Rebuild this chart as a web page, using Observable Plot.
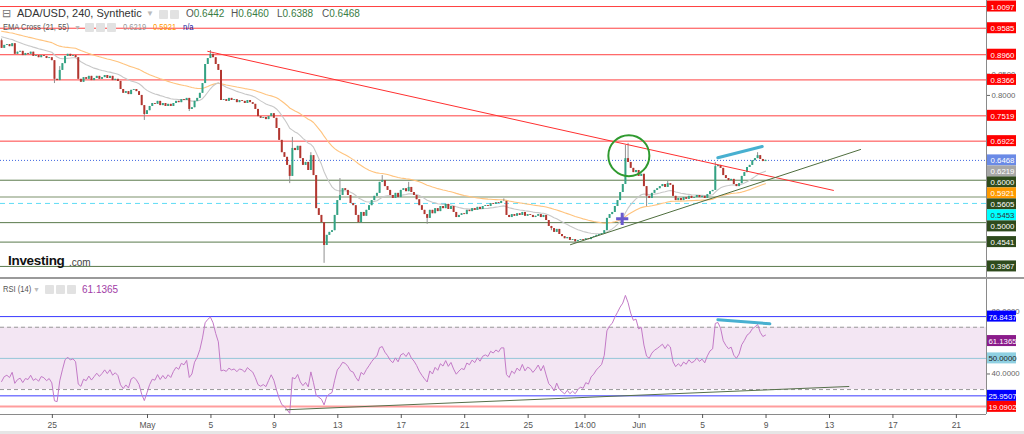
<!DOCTYPE html>
<html><head><meta charset="utf-8">
<script src="https://cdn.jsdelivr.net/npm/d3@7"></script>
<script src="https://cdn.jsdelivr.net/npm/@observablehq/plot@0.6"></script>
<style>
html,body{margin:0;padding:0;background:#fff;}
#wrap{position:relative;width:1024px;height:434px;overflow:hidden;background:#fff;}
#wrap svg{display:block;}
.sep{height:2px;background:#9a9a9a;}
.band{height:3px;background:#e6e6e6;}
.ov{position:absolute;white-space:nowrap;font-family:"Liberation Sans",Arial,sans-serif;line-height:1;}
.nar{transform:scaleX(0.84);transform-origin:0 0;}
.ic{position:absolute;width:9px;height:9px;background:#e2e2e2;border-radius:1px;}
</style></head>
<body><div id="wrap"></div>
<script>
// ---------- DATA ----------
// 4-hour candles, x in days since 1 April (1 May = 30)
const startDay = 20.8;
const candleStep = 1 / 6;
const firstOpen = 0.929;
const closes = [
0.911,0.918,0.920,0.915,0.922,0.897,0.902,0.904,0.894,0.899,0.897,0.902,0.892,0.894,0.889,0.894,0.892,0.887,0.889,0.882,
0.838,0.835,0.859,0.875,0.892,0.897,0.892,0.894,0.889,0.838,0.831,0.842,0.838,0.845,0.835,0.840,0.845,0.838,0.842,0.847,
0.840,0.845,0.835,0.838,0.833,0.814,0.805,0.809,0.802,0.812,0.814,0.809,0.800,0.776,0.755,0.764,0.774,0.781,0.779,0.786,
0.776,0.781,0.774,0.779,0.774,0.781,0.786,0.783,0.790,0.788,0.793,0.767,0.771,0.786,0.793,0.805,0.828,0.873,0.887,0.897,
0.889,0.873,0.859,0.788,0.790,0.786,0.793,0.788,0.790,0.783,0.788,0.786,0.781,0.788,0.783,0.779,0.767,0.750,0.746,0.748,
0.743,0.750,0.757,0.746,0.722,0.694,0.665,0.654,0.635,0.609,0.675,0.670,0.680,0.651,0.635,0.642,0.623,0.658,0.611,0.533,
0.517,0.500,0.446,0.470,0.477,0.481,0.517,0.552,0.564,0.580,0.576,0.564,0.545,0.540,0.517,0.500,0.524,0.515,0.529,0.540,
0.552,0.562,0.569,0.595,0.599,0.585,0.576,0.564,0.557,0.569,0.559,0.576,0.580,0.573,0.583,0.571,0.564,0.554,0.540,0.529,
0.519,0.510,0.529,0.521,0.533,0.526,0.538,0.533,0.543,0.531,0.538,0.524,0.512,0.517,0.521,0.519,0.529,0.526,0.533,0.529,
0.536,0.531,0.538,0.540,0.538,0.545,0.543,0.547,0.545,0.550,0.550,0.517,0.512,0.519,0.515,0.521,0.517,0.524,0.515,0.519,
0.517,0.512,0.515,0.519,0.512,0.517,0.505,0.491,0.486,0.477,0.484,0.472,0.467,0.462,0.465,0.458,0.460,0.455,0.458,0.460,
0.458,0.462,0.460,0.465,0.467,0.470,0.472,0.474,0.481,0.510,0.519,0.524,0.538,0.552,0.571,0.590,0.651,0.642,0.628,0.618,
0.623,0.609,0.614,0.585,0.562,0.557,0.569,0.576,0.580,0.585,0.590,0.583,0.592,0.588,0.562,0.552,0.557,0.552,0.559,0.555,
0.562,0.557,0.559,0.564,0.559,0.562,0.557,0.566,0.573,0.576,0.632,0.635,0.628,0.611,0.604,0.599,0.602,0.590,0.585,0.592,
0.609,0.618,0.630,0.635,0.646,0.651,0.658,0.649,0.644,0.647
];
// notable wicks: [candle index, price]
const highWicks = [[0,0.933],[22,0.868],[79,0.906],[110,0.701],[117,0.665],[128,0.604],[144,0.611],[154,0.595],[190,0.556],[236,0.682],[237,0.687],[252,0.599],[270,0.642],[286,0.665]];
const lowWicks  = [[20,0.828],[54,0.741],[71,0.762],[109,0.592],[122,0.404],[161,0.496],[208,0.481],[217,0.451],[244,0.538]];

// indicator seeds read from the left edge
const emaFastSeed = 0.941, emaSlowSeed = 0.953;
const rsiSeedGain = 0.004, rsiSeedLoss = 0.006;

// horizontal levels
const resistanceLevels = [1.0097, 0.9585, 0.8960, 0.8366, 0.7519, 0.6922];
const supportLevels = [0.6000, 0.5000, 0.4541, 0.3967];
const midLevel = 0.5605;
const cyanLevel = 0.5453;
const lastPrice = 0.6468;
const emaFastLast = 0.6219, emaSlowLast = 0.5921;

// drawings
const downTrend = [{day: 33.80, price: 0.904}, {day: 73.25, price: 0.576}];
const upTrend = [{day: 56.67, price: 0.448}, {day: 74.96, price: 0.6725}];
const priceDivergence = [{day: 65.96, price: 0.653}, {day: 68.76, price: 0.6795}];
const circleMark = [{day: 60.35, price: 0.658}];
const crossMark = [{day: 59.93, price: 0.509}];

// RSI panel
const rsiBands = [76.8437, 25.9507];
const rsiRed = 19.0902;
const rsiOB = 70, rsiOS = 30, rsiMid = 50;
const rsiLast = 61.1365;
const rsiTrend = [{day: 38.70, v: 17.0}, {day: 74.22, v: 31.96}];
const rsiDivergence = [{day: 65.96, v: 74.8}, {day: 69.24, v: 72.2}];

// x axis
const tickDays = [24, 30, 34, 38, 42, 46, 50, 54, 57.583, 61, 65, 69, 73, 77, 81];
const tickLabels = ["25", "May", "5", "9", "13", "17", "21", "25", "14:00", "Jun", "5", "9", "13", "17", "21"];
const priceTicks = [0.40,0.45,0.50,0.55,0.60,0.65,0.70,0.75,0.80,0.85,0.90,0.95,1.00];
const rsiTicks = [20, 40, 60, 80];

// ---------- LAYOUT / STYLE ----------
const W = 1024, MR = 38;
const xDomain = [20.731, 82.9];
const mainH = 277, rsiH = 152, rsiMB = 17;
const yDomainMain = [0.3706, 1.0239];
const yDomainRsi = [13.98, 100.66];
const font = '"Liberation Sans",Arial,sans-serif';
const upCol = "#33a384", downCol = "#b3362f";
const tagStyle = {
  res: {bg: "#ff0000", fg: "#fff"}, last: {bg: "#6a8ae6", fg: "#fff"}, emaF: {bg: "#a8a8a8", fg: "#fff"},
  sup: {bg: "#2e4a1c", fg: "#fff"}, emaS: {bg: "#ff9a00", fg: "#fff"}, cyan: {bg: "#00ffff", fg: "#333"},
  band: {bg: "#0000ff", fg: "#fff"}, rsi: {bg: "#8b1c8b", fg: "#fff"}, mid: {bg: "#8fd0e2", fg: "#222"}, red: {bg: "#ff0000", fg: "#fff"}
};

// ---------- DERIVED ----------
const hiMap = new Map(highWicks), loMap = new Map(lowWicks);
const candles = closes.map((c, i) => {
  const o = i ? closes[i - 1] : firstOpen;
  return {day: startDay + i * candleStep, open: o, close: c,
    high: Math.max(o, c, hiMap.get(i) ?? -Infinity), low: Math.min(o, c, loMap.get(i) ?? Infinity)};
});
function ema(vals, n, seed) { const k = 2 / (n + 1); let e = seed; return vals.map(v => (e = e + k * (v - e))); }
const emaF = ema(closes, 21, emaFastSeed), emaS = ema(closes, 55, emaSlowSeed);
const emaData = candles.map((d, i) => ({day: d.day, f: emaF[i], s: emaS[i]}));
let ag = rsiSeedGain, al = rsiSeedLoss;
const rsiData = candles.map(d => {
  const ch = d.close - d.open;
  ag = (ag * 13 + Math.max(ch, 0)) / 14; al = (al * 13 + Math.max(-ch, 0)) / 14;
  return {day: d.day, v: 100 - 100 / (1 + ag / al)};
});
function spread(tags, domain, h, gapPx) {
  const g = gapPx * (domain[1] - domain[0]) / h;
  let prev = Infinity;
  return [...tags].sort((a, b) => b.value - a.value).map(t => { const pos = Math.min(t.value, prev - g); prev = pos; return {...t, pos}; });
}
// drop axis tick labels that a price tag covers completely
function uncovered(ticks, tags, domain, h, px) {
  const g = px * (domain[1] - domain[0]) / h;
  return ticks.filter(t => tags.every(s => Math.abs(s.pos - t) > g));
}
const mainTags = spread([
  ...resistanceLevels.map(v => ({value: v, kind: "res"})),
  {value: lastPrice, kind: "last"}, {value: emaFastLast, kind: "emaF"},
  ...supportLevels.map(v => ({value: v, kind: "sup"})),
  {value: emaSlowLast, kind: "emaS"}, {value: midLevel, kind: "sup"}, {value: cyanLevel, kind: "cyan"}
], yDomainMain, mainH, 11);
const rsiTags = spread([
  {value: rsiBands[0], kind: "band"}, {value: rsiLast, kind: "rsi"}, {value: rsiMid, kind: "mid"},
  {value: rsiBands[1], kind: "band"}, {value: rsiRed, kind: "red"}
], yDomainRsi, rsiH - rsiMB, 11);
const mainTickShown = uncovered(priceTicks, mainTags, yDomainMain, mainH, 4.5);
const rsiTickShown = uncovered(rsiTicks, rsiTags, yDomainRsi, rsiH - rsiMB, 4.5);

function tagMarks(tags) {
  return [
    Plot.rect(tags, {x1: () => xDomain[1], x2: () => xDomain[1], y1: "pos", y2: "pos",
      insetLeft: 1, insetRight: -30, insetTop: -5.5, insetBottom: -5.5, fill: d => tagStyle[d.kind].bg}),
    Plot.text(tags, {x: () => xDomain[1], y: "pos", text: d => d.value.toFixed(4), dx: 16, dy: 0.5,
      fill: d => tagStyle[d.kind].fg, fontSize: 7.8, fontFamily: font})
  ];
}

// ---------- MAIN PANEL ----------
const mainPlot = Plot.plot({
  width: W, height: mainH, marginLeft: 0, marginRight: MR, marginTop: 0, marginBottom: 0,
  x: {domain: xDomain, axis: null},
  y: {domain: yDomainMain},
  color: {type: "identity"},
  style: {background: "transparent", fontFamily: font},
  marks: [
    Plot.ruleY(resistanceLevels, {stroke: "#ff4040", strokeWidth: 1}),
    Plot.ruleY(supportLevels, {stroke: "#5a7a4c", strokeWidth: 1}),
    Plot.ruleY([midLevel], {stroke: "#a7b69d", strokeWidth: 1.5}),
    Plot.ruleY([cyanLevel], {stroke: "#5fdcf5", strokeWidth: 1, strokeDasharray: "5,4"}),
    Plot.ruleY([lastPrice], {stroke: "#3f66e0", strokeWidth: 1, strokeDasharray: "1,2"}),
    Plot.line(emaData, {x: "day", y: "s", stroke: "#ffc37d", strokeWidth: 1.1}),
    Plot.line(emaData, {x: "day", y: "f", stroke: "#c8c8c8", strokeWidth: 1.1}),
    Plot.ruleX(candles, {x: "day", y1: "low", y2: "high", stroke: "#909090", strokeWidth: 1}),
    Plot.ruleX(candles, {x: "day", y1: "open", y2: "close", stroke: d => d.close >= d.open ? upCol : downCol, strokeWidth: 2}),
    Plot.line(downTrend, {x: "day", y: "price", stroke: "#ff3030", strokeWidth: 1}),
    Plot.line(upTrend, {x: "day", y: "price", stroke: "#4f6e3e", strokeWidth: 1}),
    Plot.line(priceDivergence, {x: "day", y: "price", stroke: "#48b0d0", strokeWidth: 3}),
    Plot.dot(circleMark, {x: "day", y: "price", r: 20.5, stroke: "#2f9a2f", strokeWidth: 2, fill: "none"}),
    Plot.dot(crossMark, {x: "day", y: "price", symbol: "plus", r: 4, stroke: "#6a5acd", strokeWidth: 3}),
    Plot.ruleX([xDomain[1]], {stroke: "#8a8a8a"}),
    Plot.axisY(mainTickShown, {anchor: "right", tickFormat: d => d.toFixed(4), tickSize: 3, tickPadding: 2, fontSize: 7.8, color: "#666", label: null}),
    ...tagMarks(mainTags)
  ]
});

// ---------- RSI PANEL ----------
const labelOf = new Map(tickDays.map((d, i) => [d, tickLabels[i]]));
const rsiPlot = Plot.plot({
  width: W, height: rsiH, marginLeft: 0, marginRight: MR, marginTop: 0, marginBottom: rsiMB,
  x: {domain: xDomain},
  y: {domain: yDomainRsi},
  color: {type: "identity"},
  style: {background: "transparent", fontFamily: font},
  marks: [
    Plot.rect([0], {x1: () => xDomain[0], x2: () => xDomain[1], y1: () => rsiOS, y2: () => rsiOB, fill: "#f3e6f3"}),
    Plot.ruleY([rsiOB, rsiOS], {stroke: "#9a9a9a", strokeDasharray: "4,3"}),
    Plot.ruleY([rsiMid], {stroke: "#95c6d8"}),
    Plot.ruleY(rsiBands, {stroke: "#3a3aff"}),
    Plot.ruleY([rsiRed], {stroke: "#ff9d9d", strokeWidth: 2}),
    Plot.line(rsiData, {x: "day", y: "v", stroke: "#c37ac7", strokeWidth: 1}),
    Plot.line(rsiTrend, {x: "day", y: "v", stroke: "#56704a", strokeWidth: 1}),
    Plot.line(rsiDivergence, {x: "day", y: "v", stroke: "#48b0d0", strokeWidth: 3}),
    Plot.ruleX([xDomain[1]], {stroke: "#8a8a8a"}),
    Plot.ruleY([yDomainRsi[0]], {stroke: "#8a8a8a"}),
    Plot.axisX(tickDays, {tickFormat: d => labelOf.get(d), tickSize: 4, tickPadding: 3, fontSize: 8.5, color: "#555", label: null}),
    Plot.axisY(rsiTickShown, {anchor: "right", tickFormat: d => d.toFixed(4), tickSize: 3, tickPadding: 2, fontSize: 7.8, color: "#666", label: null}),
    ...tagMarks(rsiTags)
  ]
});

const wrap = document.getElementById("wrap");
wrap.append(mainPlot);
const sep = document.createElement("div"); sep.className = "sep"; wrap.append(sep);
wrap.append(rsiPlot);
const band = document.createElement("div"); band.className = "band"; wrap.append(band);

// ---------- overlay legends ----------
const ov = document.createElement("div");
ov.innerHTML = `
<span class="ov" style="left:2px;top:8px;font-size:11px;color:#777">⊟</span>
<span class="ov" style="left:17px;top:8px;font-size:11px;color:#333">ADA/USD, 240, Synthetic</span>
<span class="ov" style="left:146px;top:10px;font-size:8px;color:#bbb">▼</span>
<span class="ic" style="left:159px;top:10px"></span><span class="ic" style="left:170px;top:10px"></span>
<span class="ov" style="left:186px;top:9px;font-size:10px;color:#555">O<span style="color:#3a7d44">0.6442</span></span>
<span class="ov" style="left:231px;top:9px;font-size:10px;color:#555">H<span style="color:#3a7d44">0.6460</span></span>
<span class="ov" style="left:277px;top:9px;font-size:10px;color:#555">L<span style="color:#3a7d44">0.6388</span></span>
<span class="ov" style="left:322px;top:9px;font-size:10px;color:#555">C<span style="color:#3a7d44">0.6468</span></span>
<span class="ov nar" style="left:3px;top:23px;font-size:9px;color:#555">EMA Cross (21, 55)</span>
<span class="ov" style="left:74px;top:24px;font-size:7px;color:#bbb">▼</span>
<span class="ic" style="left:85px;top:23px"></span><span class="ic" style="left:96px;top:23px"></span><span class="ic" style="left:107px;top:23px"></span>
<span class="ov nar" style="left:123px;top:23px;font-size:9px;color:#999">0.6219</span>
<span class="ov nar" style="left:153px;top:23px;font-size:9px;color:#ff9a00">0.5921</span>
<span class="ov nar" style="left:183px;top:23px;font-size:9px;color:#1a1aa0">n/a</span>
<span class="ov" style="left:8px;top:254px;font-size:13.5px;font-weight:bold;color:#111;letter-spacing:-0.3px">Investing</span>
<span class="ov" style="left:69px;top:258px;font-size:10px;color:#444">.com</span>
<span class="ov nar" style="left:3px;top:285px;font-size:9px;color:#555">RSI (14)</span>
<span class="ov" style="left:33px;top:286px;font-size:7px;color:#bbb">▼</span>
<span class="ic" style="left:45px;top:285px"></span><span class="ic" style="left:56px;top:285px"></span><span class="ic" style="left:67px;top:285px"></span>
<span class="ov" style="left:82px;top:285px;font-size:10px;color:#a23ca6">61.1365</span>
`;
wrap.append(ov);
</script>
</body></html>
